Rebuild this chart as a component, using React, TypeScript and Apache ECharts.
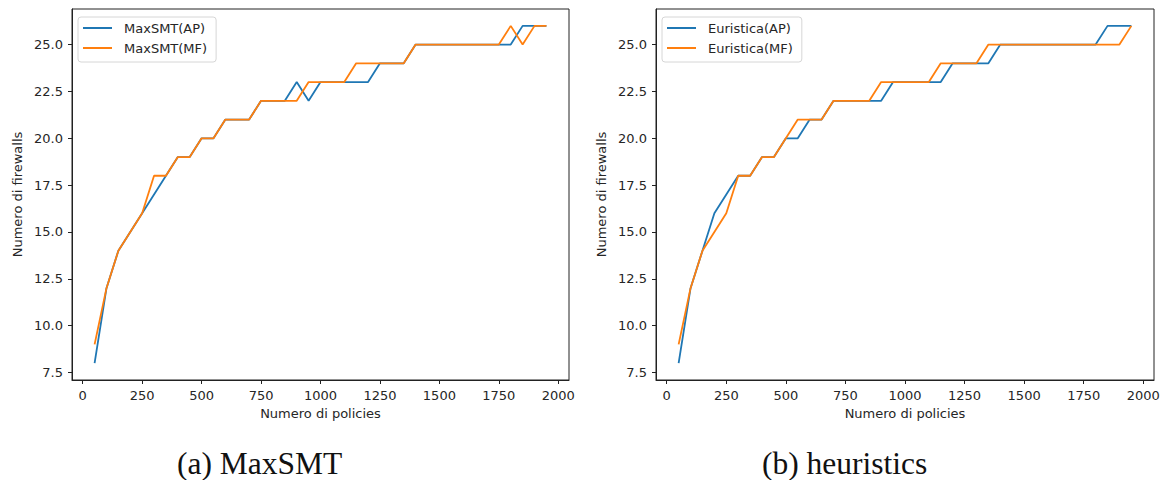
import React, { useEffect, useRef } from "react";
import * as echarts from "echarts";

// Number of policies (x) shared by all four series
const policies: number[] = [
  50, 100, 150, 200, 250, 300, 350, 400, 450, 500, 550, 600, 650, 700, 750, 800, 850, 900, 950, 1000,
  1050, 1100, 1150, 1200, 1250, 1300, 1350, 1400, 1450, 1500, 1550, 1600, 1650, 1700, 1750, 1800, 1850, 1900, 1950,
];

// Firewalls found by MaxSMT
const maxsmtAP: number[] = [
  8, 12, 14, 15, 16, 17, 18, 19, 19, 20, 20, 21, 21, 21, 22, 22, 22, 23, 22, 23,
  23, 23, 23, 23, 24, 24, 24, 25, 25, 25, 25, 25, 25, 25, 25, 25, 26, 26, 26,
];
const maxsmtMF: number[] = [
  9, 12, 14, 15, 16, 18, 18, 19, 19, 20, 20, 21, 21, 21, 22, 22, 22, 22, 23, 23,
  23, 23, 24, 24, 24, 24, 24, 25, 25, 25, 25, 25, 25, 25, 25, 26, 25, 26, 26,
];

// Firewalls found by the heuristic
const euristicaAP: number[] = [
  8, 12, 14, 16, 17, 18, 18, 19, 19, 20, 20, 21, 21, 22, 22, 22, 22, 22, 23, 23,
  23, 23, 23, 24, 24, 24, 24, 25, 25, 25, 25, 25, 25, 25, 25, 25, 26, 26, 26,
];
const euristicaMF: number[] = [
  9, 12, 14, 15, 16, 18, 18, 19, 19, 20, 21, 21, 21, 22, 22, 22, 22, 23, 23, 23,
  23, 23, 24, 24, 24, 24, 25, 25, 25, 25, 25, 25, 25, 25, 25, 25, 25, 25, 26,
];

const xTicks: number[] = [0, 250, 500, 750, 1000, 1250, 1500, 1750, 2000];
const yTicks: number[] = [7.5, 10, 12.5, 15, 17.5, 20, 22.5, 25];

const seriesNames = [
  ["MaxSMT(AP)", "MaxSMT(MF)"],
  ["Euristica(AP)", "Euristica(MF)"],
];
const captions = ["(a) MaxSMT", "(b) heuristics"];

const BLUE = "#1f77b4";
const ORANGE = "#ff7f0e";
const INK = "#262626";
const SANS = "DejaVu Sans";

const pair = (ys: number[]) => policies.map((x, i) => [x, ys[i]]);

export default function App() {
  const ref = useRef<HTMLDivElement>(null);

  useEffect(() => {
    if (!ref.current) return;
    const chart = echarts.init(ref.current, undefined, { renderer: "svg" });

    const grids = [
      { left: 72, top: 9, width: 497, height: 371 },
      { left: 656, top: 9, width: 498, height: 371 },
    ];

    const xAxes = grids.map((_, i) => ({
      type: "value",
      gridIndex: i,
      min: -45,
      max: 2045,
      name: "Numero di policies",
      nameLocation: "middle",
      nameGap: 27,
      nameTextStyle: { fontFamily: SANS, fontSize: 13, color: INK },
      splitLine: { show: false },
      axisLine: { show: true, onZero: false, lineStyle: { color: "#222", width: 1 } },
      axisTick: { show: true, length: 4, customValues: xTicks, lineStyle: { color: "#222" } },
      axisLabel: {
        customValues: xTicks,
        margin: 9,
        fontFamily: SANS,
        fontSize: 13,
        color: INK,
        formatter: (v: number) => String(v),
      },
    }));

    const yAxes = grids.map((_, i) => ({
      type: "value",
      gridIndex: i,
      min: 7.1,
      max: 26.9,
      name: "Numero di firewalls",
      nameLocation: "middle",
      nameGap: 48,
      nameTextStyle: { fontFamily: SANS, fontSize: 13, color: INK },
      splitLine: { show: false },
      axisLine: { show: true, onZero: false, lineStyle: { color: "#222", width: 1 } },
      axisTick: { show: true, length: 4, customValues: yTicks, lineStyle: { color: "#222" } },
      axisLabel: {
        customValues: yTicks,
        margin: 9,
        fontFamily: SANS,
        fontSize: 13,
        color: INK,
        formatter: (v: number) => v.toFixed(1),
      },
    }));

    const data = [
      [maxsmtAP, maxsmtMF],
      [euristicaAP, euristicaMF],
    ];

    const series: any[] = [];
    data.forEach((group, gi) => {
      group.forEach((ys, si) => {
        series.push({
          type: "line",
          name: seriesNames[gi][si],
          xAxisIndex: gi,
          yAxisIndex: gi,
          data: pair(ys),
          symbol: "none",
          lineStyle: { color: si === 0 ? BLUE : ORANGE, width: 1.8 },
          itemStyle: { color: si === 0 ? BLUE : ORANGE },
          z: 2 + si,
        });
      });
    });

    const legends = grids.map((g, i) => ({
      data: seriesNames[i],
      left: g.left + 6,
      top: 17,
      orient: "vertical",
      icon: "rect",
      itemWidth: 29,
      itemHeight: 2,
      itemGap: 6,
      padding: [4, 9, 7, 5],
      backgroundColor: "rgba(255,255,255,0.8)",
      borderColor: "#d6d6d6",
      borderWidth: 1,
      borderRadius: 3,
      selectedMode: false,
      textStyle: {
        fontFamily: SANS,
        fontSize: 13,
        lineHeight: 14,
        color: INK,
        padding: [0, 0, 0, 7],
      },
    }));

    chart.setOption({
      animation: false,
      backgroundColor: "#fff",
      grid: grids.map((g) => ({
        ...g,
        show: true,
        borderColor: "#222",
        borderWidth: 1,
        backgroundColor: "transparent",
        containLabel: false,
      })),
      xAxis: xAxes,
      yAxis: yAxes,
      legend: legends,
      series,
      graphic: captions.map((c, i) => ({
        type: "text",
        left: i === 0 ? 177 : 762,
        top: 447,
        style: {
          text: c,
          fontFamily: "Liberation Serif",
          fontSize: 31.5,
          fill: "#111",
        },
      })),
    });

    return () => chart.dispose();
  }, []);

  return (
    <div
      ref={ref}
      style={{ position: "fixed", left: 0, top: 0, width: 1172, height: 480, background: "#fff" }}
    />
  );
}
